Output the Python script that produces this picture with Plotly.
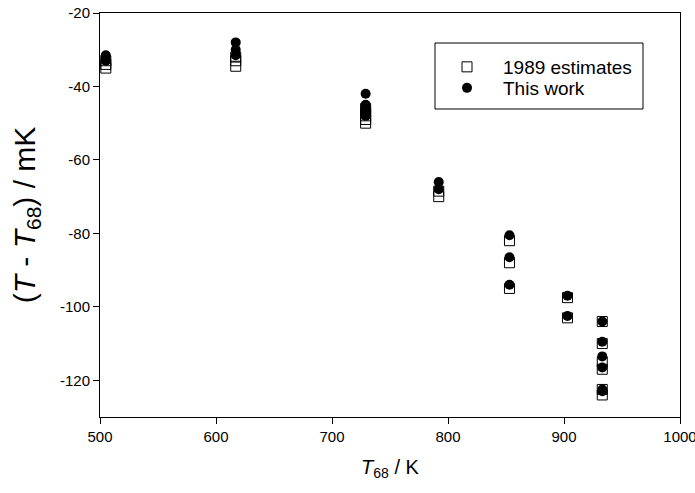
import plotly.graph_objects as go

# 1989 estimates (open squares)
est_T68 = [505, 505, 505,
           617, 617, 617,
           729, 729, 729, 729, 729,
           792, 792,
           853, 853, 853,
           903, 903,
           933, 933, 933, 933, 933, 933]
est_dT = [-35, -34, -33,
          -34.5, -33, -32,
          -50, -49, -48, -47, -46,
          -70, -68.5,
          -82, -88, -95,
          -97.5, -103,
          -104, -110, -115, -117, -122.5, -124]

# This work (filled circles)
work_T68 = [505, 505, 505,
            617, 617, 617,
            729, 729, 729, 729, 729,
            792, 792,
            853, 853, 853,
            903, 903,
            933, 933, 933, 933, 933, 933]
work_dT = [-31.5, -32, -33,
           -28, -30, -31.5,
           -42, -45, -46, -47, -48,
           -66, -68,
           -80.5, -86.5, -94,
           -97, -102.5,
           -104, -109.5, -113.5, -116.5, -122.5, -123]

x_ticks = [500, 600, 700, 800, 900, 1000]
x_ticktext = ["500", "600", "700", "800", "900", "1000"]
y_ticks = [-120, -100, -80, -60, -40, -20]
y_ticktext = ["-120", "-100", "-80", "-60", "-40", "-20"]

fig = go.Figure()
fig.add_trace(go.Scatter(
    x=est_T68, y=est_dT, mode="markers", name="1989 estimates",
    legend="legend",
    marker=dict(symbol="square-open", size=10, color="black",
                line=dict(width=1, color="black")),
))
fig.add_trace(go.Scatter(
    x=work_T68, y=work_dT, mode="markers", name="This work",
    legend="legend2",
    marker=dict(symbol="circle", size=10, color="black"),
))

axis_common = dict(
    showline=True, linecolor="black", linewidth=1, mirror=True,
    ticks="outside", ticklen=6, tickcolor="black", tickwidth=1,
    showgrid=False, zeroline=False, automargin=False,
    ticklabeloverflow="allow",
    tickfont=dict(family="Arial, Liberation Sans", size=15, color="black"),
)

leg_common = dict(
    xanchor="left", yanchor="middle",
    bgcolor="rgba(0,0,0,0)", borderwidth=0, itemwidth=62,
    font=dict(family="Arial, Liberation Sans", size=19, color="black"),
)

fig.update_layout(
    width=695, height=493,
    margin=dict(l=100, r=15, t=13, b=76),
    paper_bgcolor="white", plot_bgcolor="white",
    font=dict(family="Arial, Liberation Sans", color="black"),
    xaxis=dict(range=[500, 1000], tickvals=x_ticks, ticktext=x_ticktext,
               title=dict(text="<i>T</i><sub>68</sub> / K",
                          font=dict(size=20), standoff=15),
               **axis_common),
    yaxis=dict(range=[-130, -20], tickvals=y_ticks, ticktext=y_ticktext,
               title=dict(text="(<i>T</i> - <i>T</i><sub>68</sub>) / mK",
                          font=dict(size=30), standoff=15),
               **axis_common),
    showlegend=True,
    legend=dict(x=0.5707, y=(417 - 67) / 404, **leg_common),
    legend2=dict(x=0.5707, y=(417 - 88) / 404, **leg_common),
    shapes=[dict(type="rect", xref="paper", yref="paper",
                 x0=(435 - 100) / 580, x1=(643 - 100) / 580,
                 y0=(417 - 109) / 404, y1=(417 - 43) / 404,
                 line=dict(color="black", width=1), fillcolor="rgba(0,0,0,0)")],
)

fig.write_html("out.html", config={"displayModeBar": False},
               post_script="document.body.style.margin='0px';document.body.style.overflow='hidden';")
